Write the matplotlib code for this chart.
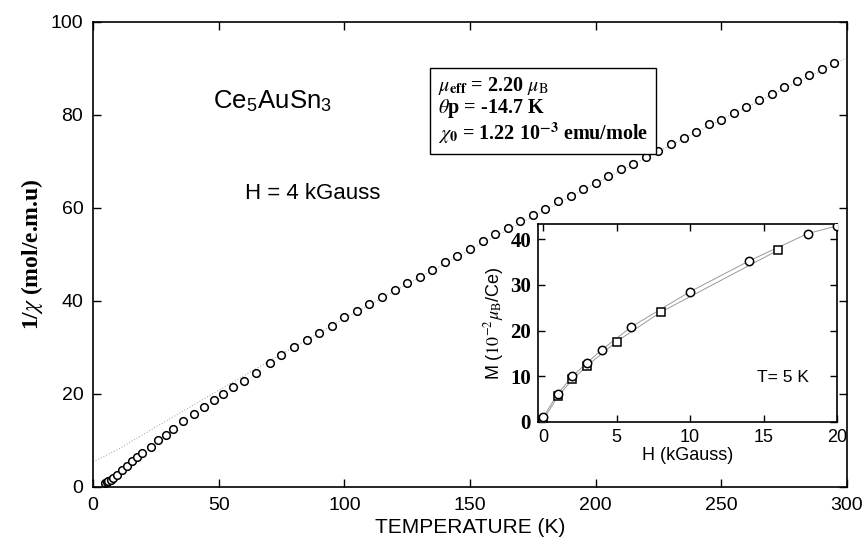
import numpy as np
import matplotlib.pyplot as plt

plt.rcParams['font.family'] = ['Liberation Sans', 'DejaVu Sans']
plt.rcParams['mathtext.fontset'] = 'stix'

# main panel: inverse susceptibility vs temperature (H = 4 kGauss)
temp = [4.8, 5.4, 6.1, 7.0, 8.1, 9.7, 11.7, 13.6, 15.6, 17.6, 19.6, 22.9, 26.0,
        28.9, 32.0, 36.0, 40.0, 44.2, 48.2, 51.9, 55.8, 60.1, 64.7, 70.4, 75.0,
        80, 85, 90, 95, 100, 105, 110, 115, 120, 125, 130, 135, 140, 145, 150,
        155, 160, 165, 170, 175, 180, 185, 190, 195, 200, 205, 210, 215, 220,
        225, 230, 235, 240, 245, 250, 255, 260, 265, 270, 275, 280, 285, 290, 295]
inv_chi = [0.8, 1.0, 1.2, 1.5, 2.0, 2.6, 3.6, 4.6, 5.6, 6.5, 7.4, 8.7, 10.0,
           11.2, 12.5, 14.2, 15.6, 17.1, 18.6, 19.9, 21.4, 22.9, 24.6, 26.7, 28.3,
           30.2, 31.6, 33.2, 34.6, 36.5, 37.8, 39.3, 40.9, 42.3, 43.8, 45.2, 46.7,
           48.3, 49.6, 51.1, 52.9, 54.3, 55.6, 57.1, 58.5, 59.8, 61.4, 62.6, 64.1,
           65.4, 66.9, 68.3, 69.5, 70.9, 72.3, 73.8, 75.1, 76.4, 78.0, 78.9, 80.5,
           81.8, 83.2, 84.5, 86.0, 87.3, 88.5, 89.9, 91.2]

# modified Curie-Weiss fit curve (dotted)
fit_t = [0, 10, 25, 50, 75, 100, 150, 200, 250, 300]
fit_y = [5.4, 8.1, 12.9, 20.8, 28.6, 36.2, 51.0, 65.3, 79.0, 92.3]

# inset: magnetisation at T = 5 K
h_circ = [0, 1, 2, 3, 4, 6, 10, 14, 18, 20]
m_circ = [1.0, 6.2, 10.0, 13.0, 15.8, 20.8, 28.5, 35.2, 41.2, 42.9]
h_sq = [0, 1, 2, 3, 5, 8, 16]
m_sq = [0.4, 5.6, 9.3, 12.3, 17.6, 24.0, 37.6]

serif = ['Liberation Serif', 'DejaVu Serif']

fig = plt.figure(figsize=(8.66, 5.44), dpi=100)
ax = fig.add_axes([0.1074, 0.1048, 0.8706, 0.8548])

ax.plot(fit_t, fit_y, color='0.6', lw=0.7, ls=(0, (1, 2)), zorder=1)
ax.plot(temp, inv_chi, 'o', mfc='white', mec='black', ms=5.5, mew=1.1,
        zorder=2)

ax.set_xlim(0, 300)
ax.set_ylim(0, 100)
ax.set_xticks(range(0, 301, 50))
ax.set_yticks(range(0, 101, 20))
ax.tick_params(direction='in', length=6, width=1.0, labelsize=14,
               top=True, right=True, pad=7)
for s in ax.spines.values():
    s.set_linewidth(1.2)

ax.set_xlabel('TEMPERATURE (K)', fontsize=15, labelpad=3)
ax.set_ylabel(r'1/$\chi$ (mol/e.m.u)', fontsize=17, fontweight='bold',
              family=serif, labelpad=4)

ax.text(0.159, 0.815, r'Ce$_{\mathregular{5}}$AuSn$_{\mathregular{3}}$',
        transform=ax.transAxes, fontsize=18.5, va='baseline')
ax.text(0.2016, 0.62, 'H = 4 kGauss', transform=ax.transAxes, fontsize=16,
        va='baseline')

box_txt = (r'$\mu_{\mathbf{eff}}$ = 2.20 $\mu_{\mathrm{B}}$' + '\n'
           r'$\theta$p = -14.7 K' + '\n'
           r'$\chi_{\mathbf{0}}$ = 1.22 10$^{\mathbf{-3}}$ emu/mole')
ax.text(0.4576, 0.885, box_txt, transform=ax.transAxes, fontsize=14.5,
        fontweight='bold', family=serif, va='top', linespacing=1.0,
        bbox=dict(facecolor='white', edgecolor='black', lw=1.0,
                  boxstyle='square,pad=0.4'))

# inset
ins = fig.add_axes([0.6212, 0.2243, 0.3453, 0.3639])
ins.plot(h_circ, m_circ, '-', color='0.6', lw=0.7, zorder=1)
ins.plot(h_sq, m_sq, '-', color='0.6', lw=0.7, zorder=1)
ins.plot(h_circ, m_circ, 'o', mfc='white', mec='black', ms=6, mew=1.1,
         ls='none', zorder=3)
ins.plot(h_sq, m_sq, 's', mfc='white', mec='black', ms=5.5, mew=1.1,
         ls='none', zorder=2)
ins.set_xlim(-0.35, 20)
ins.set_ylim(0, 43.3)
ins.set_xticks(range(0, 21, 5))
ins.set_yticks(range(0, 41, 10))
ins.tick_params(direction='in', length=5, width=1.0, labelsize=13,
                top=True, right=True, pad=5)
for lab in ins.get_yticklabels():
    lab.set_fontweight('bold')
    lab.set_family(serif)
    lab.set_fontsize(15)
for s in ins.spines.values():
    s.set_linewidth(1.2)
ins.set_xlabel('H (kGauss)', fontsize=13, labelpad=1)
ins.set_ylabel(r'M ($\mathit{10}^{-2}\mu_{\mathrm{B}}$/Ce)', fontsize=13,
               labelpad=3)
ins.text(0.732, 0.20, 'T= 5 K', transform=ins.transAxes, fontsize=12.5,
         va='baseline')

fig.savefig('out.png', dpi=100)
